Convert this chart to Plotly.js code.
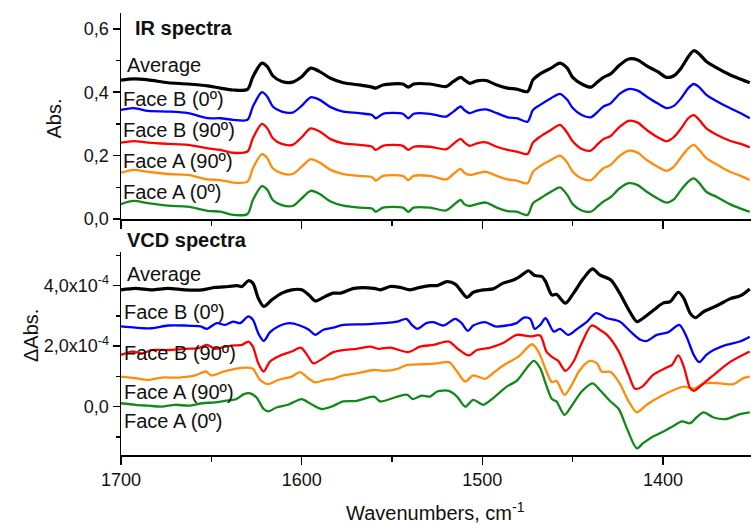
<!DOCTYPE html>
<html>
<head>
<meta charset="utf-8">
<script src="https://cdn.plot.ly/plotly-3.0.1.min.js"></script>
<style>
html,body{margin:0;padding:0;background:#fff;}
#chart{width:751px;height:525px;}
</style>
</head>
<body>
<div id="chart"></div>
<script>
// ---------- IR spectra (absorbance) ----------
var wnIR = [1700,1693,1685,1674,1663,1652,1645,1638,1630,1627,1622,1619,1616,1611,1605,1600,1595,1590,1584,1577,1568,1561,1559,1555,1544,1541,1538,1529,1520,1516,1512,1510,1507,1503,1498,1492,1486,1481,1475,1472,1468,1462,1457,1453,1450,1445,1440,1436,1433,1429,1424,1419,1414,1409,1403,1398,1394,1390,1386,1383,1380,1376,1370,1363,1357,1352];
var irAverage = [0.438,0.442,0.439,0.430,0.426,0.420,0.413,0.407,0.409,0.449,0.492,0.481,0.452,0.434,0.432,0.449,0.476,0.465,0.444,0.430,0.423,0.416,0.413,0.423,0.426,0.416,0.426,0.426,0.418,0.434,0.447,0.439,0.428,0.436,0.437,0.423,0.413,0.410,0.402,0.439,0.458,0.476,0.492,0.476,0.447,0.426,0.416,0.434,0.447,0.458,0.486,0.505,0.502,0.483,0.465,0.447,0.452,0.476,0.512,0.531,0.521,0.497,0.476,0.455,0.441,0.430];
var irFaceB0 = [0.344,0.350,0.341,0.339,0.334,0.318,0.318,0.313,0.313,0.355,0.400,0.386,0.355,0.339,0.336,0.357,0.384,0.376,0.353,0.339,0.334,0.328,0.318,0.332,0.332,0.318,0.332,0.332,0.323,0.339,0.355,0.344,0.334,0.342,0.346,0.334,0.321,0.318,0.307,0.344,0.360,0.381,0.395,0.376,0.350,0.328,0.321,0.339,0.355,0.365,0.395,0.410,0.405,0.386,0.365,0.350,0.357,0.381,0.413,0.426,0.416,0.392,0.371,0.350,0.334,0.318];
var irFaceB90 = [0.241,0.246,0.241,0.237,0.234,0.223,0.218,0.209,0.213,0.255,0.300,0.286,0.255,0.237,0.234,0.258,0.286,0.276,0.252,0.239,0.234,0.228,0.218,0.231,0.231,0.218,0.228,0.228,0.220,0.237,0.253,0.242,0.231,0.239,0.242,0.228,0.218,0.213,0.205,0.241,0.260,0.281,0.297,0.272,0.245,0.221,0.216,0.237,0.252,0.262,0.291,0.310,0.304,0.281,0.258,0.245,0.258,0.286,0.318,0.328,0.313,0.286,0.265,0.247,0.237,0.226];
var irFaceA90 = [0.146,0.155,0.149,0.142,0.139,0.125,0.123,0.115,0.118,0.160,0.205,0.192,0.160,0.144,0.142,0.165,0.189,0.178,0.155,0.142,0.136,0.132,0.121,0.136,0.136,0.123,0.136,0.136,0.125,0.142,0.158,0.146,0.139,0.144,0.149,0.136,0.125,0.121,0.113,0.149,0.167,0.186,0.200,0.178,0.149,0.128,0.123,0.144,0.160,0.171,0.199,0.216,0.209,0.186,0.165,0.152,0.165,0.195,0.223,0.234,0.218,0.192,0.171,0.149,0.136,0.123];
var irFaceA0 = [0.047,0.057,0.050,0.042,0.039,0.026,0.023,0.013,0.016,0.060,0.104,0.092,0.060,0.044,0.041,0.065,0.089,0.079,0.055,0.042,0.036,0.033,0.023,0.036,0.036,0.023,0.036,0.036,0.027,0.044,0.060,0.047,0.041,0.047,0.052,0.036,0.025,0.023,0.013,0.050,0.065,0.086,0.100,0.076,0.047,0.027,0.023,0.041,0.055,0.069,0.097,0.113,0.107,0.086,0.065,0.052,0.062,0.092,0.118,0.128,0.114,0.086,0.069,0.047,0.033,0.023];

// ---------- VCD spectra (values in units of 1e-4 dAbs) ----------
var wnVcdAverage = [1700,1692,1683,1674,1664.5,1655,1648,1640.5,1636,1633,1629.5,1627,1624,1621,1616.5,1611,1605.5,1600,1596,1592.5,1587,1582.5,1578.5,1571,1560,1556.5,1551,1545.5,1540,1534.5,1529,1525,1519.5,1515,1511.5,1508.5,1505,1499.5,1494,1488.5,1482.5,1478,1474.5,1471,1467,1465,1461.5,1459,1454,1449.5,1444,1439,1435,1429,1424,1419,1414.5,1411,1405,1400,1396,1391.5,1388.5,1385,1382,1377.5,1370,1363,1357,1352];
var vcdAverage = [3.86,3.91,3.86,3.91,3.86,3.86,3.94,3.97,4.00,3.97,4.16,4.08,3.58,3.31,3.53,3.75,3.86,3.86,3.69,3.49,3.64,3.75,3.75,3.91,3.91,3.86,3.97,3.94,3.86,3.94,4.00,4.00,4.13,4.05,3.80,3.61,3.78,3.86,3.89,4.08,4.19,4.35,4.49,4.33,4.30,4.13,3.69,3.71,3.42,3.75,4.24,4.55,4.35,4.19,3.75,3.20,2.81,2.92,3.20,3.42,3.47,3.78,3.58,3.09,2.94,3.14,3.34,3.56,3.67,3.89];

var wnVcdFaceB0 = [1700,1692,1683,1674,1664.5,1656,1652.5,1647,1642.5,1638,1634,1629.5,1627,1624,1621,1617.5,1613,1606.5,1601,1596,1592.5,1588,1582.5,1577,1566,1554.5,1547,1542,1539,1536,1531,1527,1521.5,1515,1511.5,1508,1505,1498.5,1493,1486.5,1481,1477,1473.5,1471,1468,1465,1460.5,1457,1452.5,1447.5,1442,1437,1431,1424,1418,1412.5,1409,1403.5,1397,1391,1387,1383,1380,1376,1372,1365,1357.5,1352];
var vcdFaceB0 = [2.65,2.61,2.59,2.68,2.68,2.65,2.57,2.76,2.70,2.81,2.76,2.98,2.87,2.42,2.17,2.46,2.65,2.76,2.68,2.54,2.37,2.54,2.61,2.70,2.72,2.76,2.81,2.90,2.70,2.57,2.76,2.79,2.68,2.90,2.76,2.50,2.68,2.79,2.65,2.68,2.76,2.94,2.90,2.57,2.70,2.92,2.48,2.57,2.37,2.57,2.81,3.09,2.92,2.81,2.48,2.21,2.17,2.37,2.46,2.70,2.31,1.71,1.47,1.71,1.87,2.04,2.15,2.31];

var wnVcdFaceB90 = [1700,1694,1688.5,1683,1674,1664.5,1657,1652.5,1648,1642.5,1637,1633,1629.5,1627,1624,1621,1617.5,1611,1605.5,1600.5,1597,1593.5,1588,1582.5,1577,1569.5,1562,1557.5,1551,1541,1534.5,1527,1518.5,1514,1507.5,1503,1495.5,1488.5,1481,1473.5,1468,1464.5,1460.5,1458,1454,1449.5,1445,1439.5,1435,1431,1424.5,1419,1415.5,1411.5,1405.5,1398,1395,1391.5,1388.5,1385,1383,1377.5,1370,1363,1352];
var vcdFaceB90 = [1.71,1.82,1.76,1.87,1.87,1.91,1.93,2.04,1.91,1.98,2.02,2.04,2.15,1.98,1.43,1.16,1.49,1.71,1.82,1.95,1.71,1.43,1.60,1.80,1.87,1.91,1.98,1.91,1.95,1.80,1.98,2.04,2.15,1.93,1.69,1.87,1.95,2.10,2.37,2.32,2.35,1.82,1.60,1.51,1.18,1.49,2.10,2.68,2.54,2.37,1.82,1.05,0.59,0.66,1.05,1.29,1.38,1.69,1.32,0.61,0.52,0.77,1.14,1.47,1.82];

var wnVcdFaceA90 = [1700,1692,1685,1677.5,1668,1659,1653,1650,1644,1637,1630.5,1627,1623,1618.5,1613,1605.5,1601,1596,1592.5,1587,1582.5,1577,1569.5,1560,1554.5,1547,1541.5,1532.5,1525,1518.5,1514,1509.5,1505,1498.5,1493,1486.5,1480,1472.5,1469,1464.5,1461.5,1459,1454.5,1450.5,1446,1440.5,1436.5,1434,1429,1424,1419,1414.5,1409,1401.5,1394,1388.5,1383,1377.5,1368.5,1361,1355.5,1352];
var vcdFaceA90 = [0.99,0.94,0.88,0.96,0.96,1.03,1.16,1.03,1.14,1.25,1.29,1.25,0.88,0.74,0.88,0.99,1.14,0.92,0.80,0.88,0.92,1.03,1.10,1.21,1.18,1.25,1.38,1.40,1.43,1.47,1.16,0.83,1.03,0.92,1.16,1.43,1.65,2.06,1.82,1.16,0.81,0.85,0.39,0.72,1.21,1.51,1.43,1.16,1.14,0.77,0.17,-0.19,0.06,0.33,0.55,0.66,0.59,0.77,0.77,0.74,0.94,0.99];

var wnVcdFaceA0 = [1700,1692,1685,1677.5,1670,1662.5,1655,1648,1642.5,1636,1632,1628.5,1625,1621,1618.5,1614,1607.5,1600,1595.5,1589,1583.5,1577,1569.5,1560,1556.5,1547,1541.5,1538.5,1533.5,1529,1525,1518.5,1514,1509.5,1505,1499.5,1494,1486.5,1481,1475.5,1471.5,1468,1465,1461.5,1459,1454.5,1450.5,1445,1439,1435,1429,1424.5,1420,1414.5,1411,1405.5,1400,1394,1389.5,1385,1381.5,1377.5,1372,1365,1357.5,1352];
var vcdFaceA0 = [0.11,0.06,0.03,0.00,0.06,0.03,0.11,0.14,0.19,0.25,0.41,0.44,0.30,-0.08,-0.16,-0.03,0.06,0.25,0.11,-0.08,0.00,0.17,0.19,0.33,0.17,0.33,0.39,0.25,0.36,0.33,0.50,0.52,0.33,0.00,0.22,0.06,0.28,0.66,0.85,1.27,1.51,1.27,0.77,0.25,0.17,-0.27,0.03,0.50,0.77,0.55,0.17,-0.08,-0.72,-1.38,-1.21,-0.99,-0.83,-0.63,-0.49,-0.55,-0.36,-0.19,-0.36,-0.41,-0.25,-0.19];

// ---------- labels ----------
var seriesNames = ['Face A (0º)','Face A (90º)','Face B (90º)','Face B (0º)','Average'];
var seriesColors = ['#11891a','#ff8c0a','#ff0000','#0000ff','#000000'];
var irTicks = [0, 0.2, 0.4, 0.6];
var irTickText = ['0,0','0,2','0,4','0,6'];
var vcdTicks = [0, 2e-4, 4e-4];
var vcdTickText = ['0,0','2,0x10<sup>-4</sup>','4,0x10<sup>-4</sup>'];
var vcdScale = 1e-4;

var FONT = 'Arial, "Liberation Sans", Helvetica, sans-serif';

var irY = [irFaceA0, irFaceA90, irFaceB90, irFaceB0, irAverage];
var vcdX = [wnVcdFaceA0, wnVcdFaceA90, wnVcdFaceB90, wnVcdFaceB0, wnVcdAverage];
var vcdY = [vcdFaceA0, vcdFaceA90, vcdFaceB90, vcdFaceB0, vcdAverage];

var traces = [];
for (var i = 0; i < 5; i++) {
  var w = (i === 4) ? 3.2 : 2.3;
  traces.push({x: wnIR, y: irY[i], xaxis: 'x2', yaxis: 'y2', type: 'scatter', mode: 'lines',
    line: {color: seriesColors[i], width: w, shape: 'spline', smoothing: 0.8}, name: seriesNames[i], hoverinfo: 'skip'});
}
for (var j = 0; j < 5; j++) {
  var w2 = (j === 4) ? 3.2 : 2.3;
  traces.push({x: vcdX[j], y: vcdY[j].map(function(v){return v * vcdScale;}), xaxis: 'x', yaxis: 'y', type: 'scatter', mode: 'lines',
    line: {color: seriesColors[j], width: w2, shape: 'spline', smoothing: 0.8}, name: seriesNames[j], hoverinfo: 'skip'});
}

// plot area: x 121..751 px, y 13..455 px
function px(x){ return (x - 121) / 630; }
function py(y){ return (455 - y) / 442; }

var annotations = [];
function addLabel(text, x, y, opts) {
  var a = {text: text, xref: 'paper', yref: 'paper', x: px(x), y: py(y), xanchor: 'left', yanchor: 'middle',
    showarrow: false, borderpad: 0, font: {family: FONT, size: 20, color: '#111'}};
  for (var k in (opts || {})) a[k] = opts[k];
  annotations.push(a);
}
addLabel('<b>IR spectra</b>', 134, 28);
var irLabelY = [191.7, 160.7, 130, 99, 65];
var vcdLabelY = [421, 391.7, 353.3, 311.7, 274];
for (var m = 0; m < 5; m++) {
  addLabel(seriesNames[m], m === 4 ? 126 : 122, irLabelY[m]);
  addLabel(seriesNames[m], m === 4 ? 126 : 123, vcdLabelY[m]);
}
addLabel('<b>VCD spectra</b>', 126, 240);
addLabel('Abs.', 53, 118.5, {xanchor: 'center', textangle: -90});
addLabel('\u0394Abs.', 31, 336, {xanchor: 'center', textangle: -90});
addLabel('Wavenumbers, cm<sup>-1</sup>', 435, 511, {xanchor: 'center'});

var axisCommon = {showline: true, linecolor: '#000', linewidth: 1.5, ticks: 'outside', tickcolor: '#000',
  tickwidth: 1.5, showgrid: false, zeroline: false, tickfont: {family: FONT, size: 18, color: '#111'}};

function merge(a, b) { var o = {}; for (var k in a) o[k] = a[k]; for (var k2 in b) o[k2] = b[k2]; return o; }

var layout = {
  width: 751, height: 525,
  margin: {l: 121, r: 0, t: 13, b: 70, pad: 0},
  paper_bgcolor: '#fff', plot_bgcolor: '#fff',
  showlegend: false,
  font: {family: FONT, color: '#000'},
  xaxis: merge(axisCommon, {domain: [0, 1], anchor: 'y', range: [1700, 1351.3], tickmode: 'linear', tick0: 1400, dtick: 100,
    ticklen: 8, tickformat: 'd', minor: {dtick: 50, tick0: 1400, ticklen: 5, tickwidth: 1.5, tickcolor: '#000', ticks: 'outside'}}),
  xaxis2: merge(axisCommon, {domain: [0, 1], anchor: 'y2', matches: 'x', range: [1700, 1351.3], tickmode: 'linear', tick0: 1400, dtick: 100,
    ticklen: 8, showticklabels: false, minor: {dtick: 50, tick0: 1400, ticklen: 5, tickwidth: 1.5, tickcolor: '#000', ticks: 'outside'}}),
  yaxis: merge(axisCommon, {domain: [0, 0.4593], anchor: 'x', range: [-1.6e-4, 5.11e-4], tickmode: 'array',
    tickvals: vcdTicks, ticktext: vcdTickText, ticklen: 7,
    minor: {tickmode: 'array', tickvals: [-1e-4, 1e-4, 3e-4, 5e-4], ticklen: 4, tickwidth: 1.5, tickcolor: '#000', ticks: 'outside'}}),
  yaxis2: merge(axisCommon, {domain: [0.5339, 1], anchor: 'x2', range: [0, 0.65], tickmode: 'array',
    tickvals: irTicks, ticktext: irTickText, ticklen: 7,
    minor: {tickmode: 'array', tickvals: [0.1, 0.3, 0.5], ticklen: 4, tickwidth: 1.5, tickcolor: '#000', ticks: 'outside'}}),
  annotations: annotations
};

Plotly.newPlot('chart', traces, layout, {staticPlot: true, displayModeBar: false});
</script>
</body>
</html>
